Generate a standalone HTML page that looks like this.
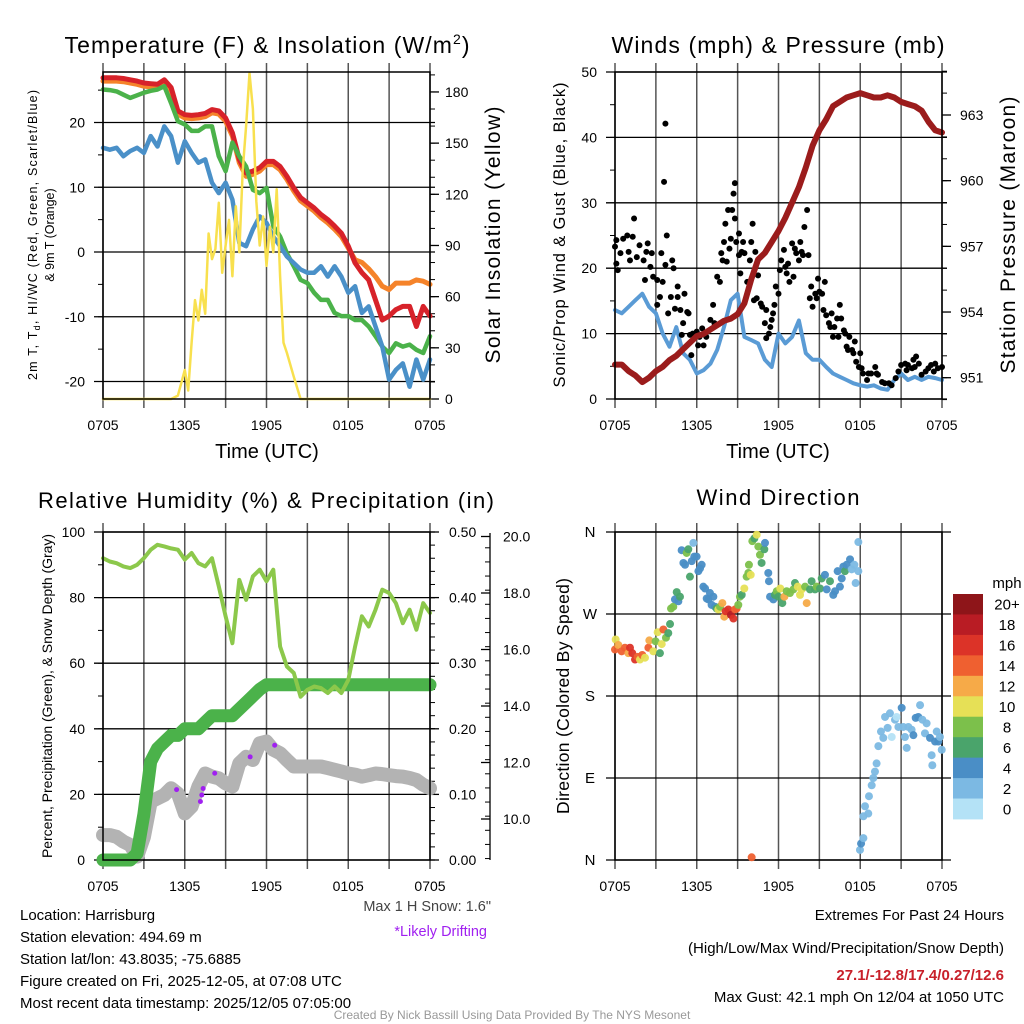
<!DOCTYPE html>
<html><head><meta charset="utf-8"><style>
html,body{margin:0;padding:0;background:#fff;}
svg{display:block;font-family:"Liberation Sans",Arial,sans-serif;}
</style></head><body>
<svg id="root" width="1024" height="1024" viewBox="0 0 1024 1024" xmlns="http://www.w3.org/2000/svg">
<rect width="1024" height="1024" fill="#fff"/>
<text x="267" y="53" font-size="23" text-anchor="middle" textLength="405">Temperature (F) &amp; Insolation (W/m<tspan dy="-9" font-size="14">2</tspan><tspan dy="9">)</tspan></text>
<text x="778" y="53" font-size="23" text-anchor="middle" textLength="333">Winds (mph) &amp; Pressure (mb)</text>
<text x="266" y="508" font-size="22" text-anchor="middle" textLength="456">Relative Humidity (%) &amp; Precipitation (in)</text>
<text x="778" y="505" font-size="22" text-anchor="middle" textLength="163">Wind Direction</text>

<g font-size="12.5">
<text transform="translate(37,235) rotate(-90)" text-anchor="middle" textLength="290">2m T, T<tspan font-size="9" dy="3">d</tspan><tspan dy="-3">, HI/WC (Red, Green, Scarlet/Blue)</tspan></text>
<text transform="translate(54,235) rotate(-90)" text-anchor="middle">&amp; 9m T (Orange)</text>
</g>
<text transform="translate(500,235) rotate(-90)" font-size="21" text-anchor="middle" textLength="257">Solar Insolation (Yellow)</text>
<text x="267" y="458" font-size="20" text-anchor="middle">Time (UTC)</text>
<text transform="translate(565,235) rotate(-90)" font-size="16.5" text-anchor="middle" textLength="305">Sonic/Prop Wind &amp; Gust (Blue, Black)</text>
<text transform="translate(1015,235) rotate(-90)" font-size="21" text-anchor="middle" textLength="277">Station Pressure (Maroon)</text>
<text x="778" y="458" font-size="20" text-anchor="middle">Time (UTC)</text>
<text transform="translate(52,696) rotate(-90)" font-size="14" text-anchor="middle" textLength="324">Percent, Precipitation (Green), &amp; Snow Depth (Gray)</text>
<text transform="translate(569,696) rotate(-90)" font-size="17.5" text-anchor="middle" textLength="236">Direction (Colored By Speed)</text>

<g font-size="15">
<text x="20" y="920">Location: Harrisburg</text>
<text x="20" y="942">Station elevation: 494.69 m</text>
<text x="20" y="964">Station lat/lon: 43.8035; -75.6885</text>
<text x="20" y="986">Figure created on Fri, 2025-12-05, at 07:08 UTC</text>
<text x="20" y="1008">Most recent data timestamp: 2025/12/05 07:05:00</text>
</g>
<text x="491" y="911" font-size="14.5" fill="#444" text-anchor="end">Max 1 H Snow: 1.6"</text>
<text x="487" y="936" font-size="14.5" fill="#a020f0" text-anchor="end">*Likely Drifting</text>
<g font-size="15" text-anchor="end">
<text x="1004" y="920">Extremes For Past 24 Hours</text>
<text x="1004" y="953">(High/Low/Max Wind/Precipitation/Snow Depth)</text>
<text x="1004" y="980" fill="#c8202a" font-weight="bold">27.1/-12.8/17.4/0.27/12.6</text>
<text x="1004" y="1002">Max Gust: 42.1 mph On 12/04 at 1050 UTC</text>
</g>
<text x="512" y="1019" font-size="12" fill="#999" text-anchor="middle">Created By Nick Bassill Using Data Provided By The NYS Mesonet</text>
</svg>
<script>
// ---- data (hours since 0705 UTC) ----
const timeLabels = ["0705","1305","1905","0105","0705"];
const labelHours = [0,6,12,18,24];
const hours = [0,0.5,1,1.5,2,2.5,3,3.5,4,4.5,5,5.5,6,6.5,7,7.5,8,8.5,9,9.5,10,10.5,11,11.5,12,12.5,13,13.5,14,14.5,15,15.5,16,16.5,17,17.5,18,18.5,19,19.5,20,20.5,21,21.5,22,22.5,23,23.5,24];
const tempRed = [26.9,26.9,26.9,26.8,26.6,26.4,26.1,26.0,25.9,26.6,25.4,21.8,21.2,21.1,21.2,21.4,22,21.8,20.7,18.4,14.3,12.2,12.5,13,14,14,13.2,11.7,9.9,8.4,7.6,6.8,5.8,5,4,2.9,0.9,-1.7,-3.2,-4.3,-7.4,-10.5,-9.9,-8.9,-8.4,-8.4,-11.5,-8.4,-9.9];
const temp9m = [26.4,26.4,26.4,26.3,26.1,25.9,25.6,25.5,25.4,26.1,24.9,21.3,20.7,20.6,20.7,20.9,21.5,21.3,20.2,17.9,13.8,11.7,12,12.5,13.5,13.5,12.7,11.2,9.4,7.9,7.1,6.3,5.3,4.5,3.5,2.4,0.6,-1.2,-1.6,-2.6,-3.8,-5.3,-5.8,-4.8,-4.8,-4.8,-4.3,-4.5,-5];
const dewGreen = [25.1,25,24.8,24.3,23.8,24.2,24.6,24.9,25.1,25.6,23,20.2,19.7,18.7,18.7,19.4,19.4,14.8,12.5,16.9,14.8,13.2,9.6,9.1,9.9,4,2.4,-0.2,-2.2,-4.3,-4.8,-6.3,-7.4,-7.4,-9.4,-9.9,-9.9,-10.5,-10.5,-11.5,-13,-14.6,-15.6,-14.1,-14.6,-14.3,-15.1,-15.6,-13];
const windChillBlue = [16.1,15.8,16.1,14.8,15.6,16.1,15.3,17.9,16.3,19.4,17.9,13.8,17.1,15.3,13.8,14.3,10.7,9.1,10.7,8.1,1.4,0.9,3.5,5.5,4.5,2.4,0.9,-0.7,-1.7,-2.7,-3.2,-3.2,-2.2,-3.8,-2.2,-3.8,-6.3,-5.3,-9.4,-8.4,-11.5,-14.6,-19.7,-18.2,-17.2,-20.8,-16.6,-19.7,-16.6];
const solarHours = [0,5,5.5,6,6.25,6.5,6.75,7,7.25,7.5,7.75,8,8.25,8.5,8.75,9,9.25,9.5,9.75,10,10.25,10.5,10.75,11,11.25,11.5,11.75,12,12.25,12.5,12.75,13,13.25,13.5,14,14.5,24];
const solarValues = [0,0,2,17,5,33,58,46,64,50,97,82,88,115,74,90,105,72,113,86,134,160,191,170,116,90,107,78,101,86,123,72,33,27,13,0,0];
const windSpeed = [13.6,13.1,14.1,15.1,16.1,14.1,13.1,10,8,11,7,6,3.9,4.4,5.4,7.5,11,15.1,16.1,9.5,9,8.5,6,4.9,10,8.5,9.5,12,7,6,6,4.9,3.9,3.4,2.9,2.4,2.1,1.9,2.1,1.6,1.4,2.9,3.9,2.9,3.4,2.9,3.4,3.2,2.9];
const pressure = [951.6,951.6,951.3,951.1,950.8,951.0,951.3,951.5,951.8,952.0,952.3,952.6,952.9,953.0,953.2,953.4,953.6,953.7,953.9,954.4,955.5,956.4,956.7,957.2,957.7,958.3,959.0,959.7,960.6,961.6,962.3,962.8,963.4,963.6,963.8,963.9,964.0,963.9,963.8,963.8,963.9,963.8,963.6,963.5,963.4,963.2,962.7,962.3,962.2];
const gustHours = [0,0.1,0.1,0.2,0.4,0.6,0.9,1,1.1,1.4,1.3,1.6,1.8,2.1,2.2,2.4,2.3,2.6,2.7,2.8,3.1,3.1,3.3,3.4,3.5,3.6,3.7,3.7,3.8,3.9,4.1,4.2,4.3,4.4,4.6,4.6,4.8,4.9,5,5.1,5.3,5.4,5.5,5.6,5.7,6,6.1,6.2,6.4,6.5,6.7,7,7.2,7.3,7.5,7.7,7.8,7.9,8,8.1,8.2,8.3,8.4,8.5,8.6,8.7,8.8,8.8,8.9,9.1,9.1,9.2,9.3,9.4,9.5,9.7,9.8,9.9,10,10.1,10.2,10.3,10.4,10.5,10.7,10.8,11,11.1,11.1,11.3,11.4,11.5,11.6,11.7,11.8,12,12.1,12.2,12.4,12.5,12.6,12.7,12.8,13,13.1,13.2,13.3,13.5,13.6,13.7,13.8,13.9,14.1,14.2,14.3,14.4,14.5,14.7,14.8,14.9,15,15.2,15.3,15.4,15.5,15.7,15.8,15.9,16,16.1,16.3,16.4,16.5,16.6,16.8,16.9,17,17.1,17.2,17.4,17.5,17.6,17.7,17.9,18,18.1,18.2,18.5,18.6,18.8,19.1,19.2,19.3,19.6,19.8,20.1,20.3,20.6,20.8,21,21.3,21.4,21.5,21.8,21.9,22,22.1,22.3,22.5,22.8,23,23.2,23.4,23.5,23.7,24];
const gustValues = [23.3,24.3,20.7,19.7,22.3,24.5,25,22.5,21.2,27.6,24.8,21.7,23.5,21.2,18.2,23.8,22.5,20.2,22.3,18.7,18.2,14.4,15.6,22.3,17.9,33.2,42.1,20.5,25,13.1,15.6,21.2,20,13.8,17.2,15.6,13.6,9.8,11.6,16.1,13.3,13.1,9.8,6.7,10,10.3,8.2,9.5,10.8,8.2,9.5,12.1,14.4,11.6,18.7,17.9,22.3,21.2,24,26.8,21,28.9,23,24.5,28.9,31.4,33,27.6,24,22,25.3,19.2,22.5,24,22.3,17.9,17.9,21.2,24,26.8,15.1,22.5,15.4,18.9,14.6,14.1,11.6,13.6,9.3,10,11,12.1,13.1,14.4,17.2,16.1,19.7,21.2,22.8,20.2,19.2,20.7,17.9,23.8,18.7,23,22.3,21.2,24,22.5,22,26.3,28.9,22,15.4,17.2,14.1,16.1,15.4,18.4,16.4,16.1,13.6,17.9,12.8,11.6,11,13.1,9.5,11,12.3,9.5,14.4,12.3,10.5,10,8,7.5,9.5,7.5,7,8.8,5.7,4.9,7,4.7,3.9,2.9,3.9,3.9,4.9,3.9,3.7,2.6,2.4,2.4,2.1,3.2,4.2,5.2,5.4,4.4,5.2,4.7,6,4.9,6.5,5.4,3.7,4.2,4.7,5.2,4.2,5.4,4.7,4.9];
const rhValues = [92,91,90.5,89.5,89,90,92,94.6,96.1,95.6,95,94.6,91.6,93.6,90.5,89.5,92,83.4,74.3,66.1,85.4,79.3,86.5,88.5,85,88.5,65.1,59,57,49.8,51.9,52.9,52.4,50.9,52.9,50.9,54.9,65.1,74.3,71.2,76.3,82.4,81.4,78.3,72.2,76.3,70.2,78.3,75.3];
const precipValues = [0,0,0,0,0,0.01,0.07,0.15,0.17,0.18,0.19,0.19,0.2,0.2,0.2,0.21,0.22,0.22,0.22,0.22,0.23,0.24,0.25,0.26,0.267,0.267,0.267,0.267,0.267,0.267,0.267,0.267,0.267,0.267,0.267,0.267,0.267,0.267,0.267,0.267,0.267,0.267,0.267,0.267,0.267,0.267,0.267,0.267,0.267];
const snowDepth = [9.43,9.43,9.37,9.2,9.08,8.67,9.36,10.61,10.73,10.85,11.09,10.9,10.2,10.44,11.15,11.61,11.5,11.44,11.26,11.15,11.97,12.2,12.09,12.68,12.74,12.45,12.33,12.09,11.86,11.86,11.86,11.86,11.86,11.8,11.74,11.68,11.61,11.57,11.5,11.55,11.61,11.59,11.55,11.52,11.5,11.45,11.38,11.21,11.09];
const driftHours = [5.4,7.15,7.25,7.35,8.2,10.8,12.6];
const driftDepth = [11.04,10.62,10.85,11.08,11.62,12.2,12.61];
const dirHours = [0,0.05,0.24,0.49,0.73,0.98,1.1,1.27,1.47,1.66,1.83,2.0,2.2,2.45,2.52,2.81,2.98,3.13,3.3,3.43,3.55,3.74,3.91,4.04,4.11,4.28,4.4,4.53,4.65,4.77,4.89,5.02,5.14,5.26,5.38,5.5,5.63,5.75,5.82,5.99,6.12,6.24,6.36,6.48,6.61,6.73,6.85,6.97,7.09,7.22,7.34,7.46,7.58,7.71,7.88,8.02,8.12,8.32,8.51,8.69,8.81,8.93,9.05,9.17,9.3,9.49,9.66,9.79,9.83,9.96,10.08,10.23,10.4,10.52,10.64,10.76,10.96,11.01,11.25,11.3,11.38,11.62,11.74,11.87,11.99,12.13,12.28,12.43,12.6,12.84,13.09,13.21,13.41,13.58,13.7,13.95,14.07,14.31,14.43,14.68,14.8,15.05,15.17,15.41,15.54,15.78,16.02,16.15,16.34,16.51,16.64,16.76,16.88,17.0,17.25,17.37,17.57,17.66,17.86,17.86,17.98,18.06,18.23,18.23,18.35,18.59,18.64,18.84,18.96,19.08,19.2,19.33,19.52,19.69,19.82,20.01,20.18,20.31,20.55,20.67,20.8,21.04,21.16,21.28,21.41,21.53,21.77,21.9,22.07,22.26,22.39,22.56,22.75,22.87,23.12,23.24,23.29,23.49,23.61,23.73,23.85,23.98,10.03];
const dirDegrees = [231,242,236,229,233,227,233,227,220,223,220,225,222,233,241,229,240,250,227,237,253,244,249,259,276,278,286,294,284,289,340,326,324,337,341,311,328,348,333,333,317,320,324,300,298,287,286,293,280,289,278,276,275,278,282,267,273,275,269,265,275,276,280,289,291,298,311,315,324,313,350,353,357,344,335,326,341,348,315,306,289,286,291,295,289,298,282,289,295,293,297,304,300,291,297,300,282,297,306,297,300,298,309,313,297,306,291,295,317,300,309,322,317,324,330,319,324,304,349,317,11,18,24,48,59,51,70,82,90,97,106,125,141,134,157,145,161,135,154,157,146,167,146,135,123,146,143,137,156,157,170,154,139,150,134,115,104,130,141,130,135,121,3];
const dirSpeeds = [15,10,12,14,15,13,16,17,17,15,11,14,10,14,12,10,9,10,6,11,15,8,7,6,8,8,5,6,5,7,5,5,4,8,6,6,4,2,4,4,4,4,4,4,4,4,4,4,5,4,5,7,10,8,12,12,16,16,18,17,14,15,9,8,6,10,9,9,8,10,8,7,10,8,8,7,6,5,4,4,4,4,6,8,6,10,7,13,8,8,9,7,10,10,10,8,13,7,7,6,8,6,6,5,5,6,4,5,4,4,5,4,6,4,4,2,3,3,3,3,3,4,3,3,3,3,3,3,3,3,3,3,3,3,3,3,3,1,3,1,3,4,3,3,3,3,3,4,4,4,3,3,3,3,4,3,3,4,3,4,3,3,14];
const speedLabels = ["20+","18","16","14","12","10","8","6","4","2","0"];
const speedColors = ["#8e1519","#b91c24","#dc3328","#ef6030","#f6aa48","#e6e056","#7cc04b","#4aa46b","#4a8ec6","#7cb9e3","#b4e2f6"];

// ---- helpers ----
const NS = "http://www.w3.org/2000/svg";
const root = document.getElementById("root");
function mk(tag, attrs, parent){ const e=document.createElementNS(NS,tag); for(const k in attrs) e.setAttribute(k,attrs[k]); (parent||root).appendChild(e); return e; }
const L = {x0:103,x1:430}, R = {x0:615,x1:942};
const T1 = {y0:72,y1:399}, T2 = {y0:532,y1:860};
function xs(p){ return h => p.x0 + h*(p.x1-p.x0)/24; }
function ys(y0,y1,vmin,vmax){ return v => y1 - (v-vmin)*(y1-y0)/(vmax-vmin); }
function pathD(hs, vs, fx, fy){ return hs.map((h,i)=>(i?"L":"M")+fx(h).toFixed(1)+","+fy(vs[i]).toFixed(1)).join(""); }

function frame(p, t, name){
  const g = mk("g",{});
  
  
  const fx = xs(p);
  for(let h=0;h<=24;h+=3){
    const l = mk("line",{x1:fx(h),x2:fx(h),y1:t.y0-9,y2:t.y1+9,stroke:"#555","stroke-width":1.5},g);
    
    
  }
  labelHours.forEach((h,i)=>{
    const tx = mk("text",{x:fx(h),y:t.y1+31,"font-size":14,"text-anchor":"middle"},g);
    tx.textContent = timeLabels[i];
    
    
  });
  return g;
}
function hline(y, x0, x1, g, name){
  const l = mk("line",{x1:x0,x2:x1,y1:y,y2:y,stroke:"#000","stroke-width":1.3},g);
  
  
}
function leftAxis(p,t,fy,majors,labels,minorStep,vmin,vmax,name){
  const g = mk("g",{});
  
  
  for(let v=vmin; v<=vmax+1e-9; v+=minorStep){
    const l = mk("line",{x1:p.x0-5,x2:p.x0,y1:fy(v),y2:fy(v),stroke:"#000","stroke-width":1},g);
    
    
  }
  majors.forEach((v,i)=>{
    hline(fy(v), p.x0-9, p.x1+5, g, name+'-gridline');
    const tx = mk("text",{x:p.x0-18,y:fy(v)+5,"font-size":14,"text-anchor":"end"},g);
    tx.textContent = labels[i];
    
    
  });
}
function rightAxis(x,fy,majors,labels,minorStep,vmin,vmax,name,lx,tickDir){
  const g = mk("g",{});
  
  
  const d = tickDir||1;
  for(let v=vmin; v<=vmax+1e-9; v+=minorStep){
    const l = mk("line",{x1:x,x2:x+5*d,y1:fy(v),y2:fy(v),stroke:"#000","stroke-width":1},g);
    
    
  }
  majors.forEach((v,i)=>{
    const l = mk("line",{x1:x,x2:x+9*d,y1:fy(v),y2:fy(v),stroke:"#000","stroke-width":1.3},g);
    
    
    const tx = mk("text",{x:lx,y:fy(v)+5,"font-size":14},g);
    tx.textContent = labels[i];
    
    
  });
}
function border(p,t,name){
  const r = mk("rect",{x:p.x0,y:t.y0,width:p.x1-p.x0,height:t.y1-t.y0,fill:"none",stroke:"#000","stroke-width":1.5});
  
  
}
function line(d,color,w,name,parent){
  const e = mk("path",{d:d,fill:"none",stroke:color,"stroke-width":w,"stroke-linejoin":"round","stroke-linecap":"round"},parent);
  
  
  return e;
}

// ---- Panel 1: temperature ----
{
  const fx = xs(L);
  const fyT = ys(T1.y0,T1.y1,-22.7,27.8);
  const fyS = ys(T1.y0,T1.y1,0,191.7);
  frame(L,T1,'temperature');
  leftAxis(L,T1,fyT,[20,10,0,-10,-20],["20","10","0","-10","-20"],5,-20,25,'temperature-left-axis');
  rightAxis(L.x1,fyS,[0,30,60,90,120,150,180],["0","30","60","90","120","150","180"],10,0,190,'insolation-right-axis',445);
  line(pathD(hours,temp9m,fx,fyT),"#f5832a",5,'temp-9m-line');
  line(pathD(hours,tempRed,fx,fyT),"#d7222a",5,'temp-2m-line');
  line(pathD(hours,dewGreen,fx,fyT),"#4bb24a",4.5,'dewpoint-line');
  line(pathD(hours,windChillBlue,fx,fyT),"#4a90c8",4.5,'windchill-line');
  line(pathD(solarHours,solarValues,fx,fyS),"#f8e04e",2.5,'insolation-line');
  border(L,T1,'temperature');
}
// ---- Panel 2: winds & pressure ----
{
  const fx = xs(R);
  const fyW = ys(T1.y0,T1.y1,0,50);
  const fyP = ys(115,377.7,951,963);
  frame(R,T1,'winds');
  leftAxis(R,T1,fyW,[50,40,30,20,10,0],["50","40","30","20","10","0"],5,0,50,'wind-left-axis');
  rightAxis(R.x1,fyP,[951,954,957,960,963],["951","954","957","960","963"],1,950,965,'pressure-right-axis',960);
  line(pathD(hours,windSpeed,fx,fyW),"#5a9bd5",4,'wind-speed-line');
  const g = mk("g",{});
  
  
  gustHours.forEach((h,i)=>{
    const c = mk("circle",{cx:fx(h),cy:fyW(gustValues[i]),r:3,fill:"#000"},g);
    
    
  });
  line(pathD(hours,pressure,fx,fyP),"#9b1c1c",6,'pressure-line');
  border(R,T1,'winds');
}
// ---- Panel 3: humidity / precip / snow ----
{
  const fx = xs(L);
  const fyH = ys(T2.y0,T2.y1,0,100);
  const fyPr = ys(T2.y0,T2.y1,0,0.5);
  const fySn = v => 819 - (v-10)*28.25;
  frame(L,T2,'humidity');
  leftAxis(L,T2,fyH,[100,80,60,40,20,0],["100","80","60","40","20","0"],10,0,100,'humidity-left-axis');
  rightAxis(L.x1,fyPr,[0,0.1,0.2,0.3,0.4,0.5],["0.00","0.10","0.20","0.30","0.40","0.50"],0.02,0,0.5,'precip-right-axis',449);
  const ax = mk("line",{x1:490,x2:490,y1:533,y2:860,stroke:"#000","stroke-width":1.3});
  
  
  rightAxis(490,fySn,[10,12,14,16,18,20],["10.0","12.0","14.0","16.0","18.0","20.0"],0.5,8.6,20,'snow-right-axis',503,-1);
  line(pathD(hours,snowDepth,fx,fySn),"#b3b3b3",14,'snow-depth-line');
  const g = mk("g",{});
  
  
  driftHours.forEach((h,i)=>{
    const c = mk("circle",{cx:fx(h),cy:fySn(driftDepth[i]),r:2.5,fill:"#a020f0"},g);
    
    
  });
  line(pathD(hours,precipValues,fx,fyPr),"#4bb24a",13,'precip-line');
  line(pathD(hours,rhValues,fx,fyH),"#8cc84b",4,'rh-line');
  border(L,T2,'humidity');
}
// ---- Panel 4: wind direction ----
{
  const fx = xs(R);
  const fyD = ys(T2.y0,T2.y1,0,360);
  frame(R,T2,'direction');
  const g0 = mk("g",{});
  
  
  const dirTicks=[360,270,180,90,0], dirLabels=["N","W","S","E","N"];
  dirTicks.forEach((v,i)=>{
    hline(fyD(v), R.x0-9, R.x1+9, g0, 'direction-gridline');
    const tx = mk("text",{x:590,y:fyD(v)+5,"font-size":15,"text-anchor":"middle"},g0);
    tx.textContent = dirLabels[i];
    
    
  });
  border(R,T2,'direction');
  const g = mk("g",{});
  
  
  dirHours.forEach((h,i)=>{
    const s = dirSpeeds[i];
    const bin = Math.min(10, Math.floor(s/2));
    const c = mk("circle",{cx:fx(h),cy:fyD(dirDegrees[i]),r:4,fill:speedColors[10-bin],"fill-opacity":0.95},g);
    
    
  });
  // colorbar
  const cb = mk("g",{});
  
  
  const t = mk("text",{x:1007,y:588,"font-size":15,"text-anchor":"middle"},cb);
  t.textContent = "mph";
  
  
  const bh = (819-594)/11;
  speedLabels.forEach((lab,i)=>{
    const r = mk("rect",{x:953,y:594+i*bh,width:30,height:bh+0.4,fill:speedColors[i]},cb);
    
    
    const tx = mk("text",{x:1007,y:594+i*bh+bh/2+5.5,"font-size":15,"text-anchor":"middle"},cb);
    tx.textContent = lab;
    
    
  });
}
</script>
</body></html>
